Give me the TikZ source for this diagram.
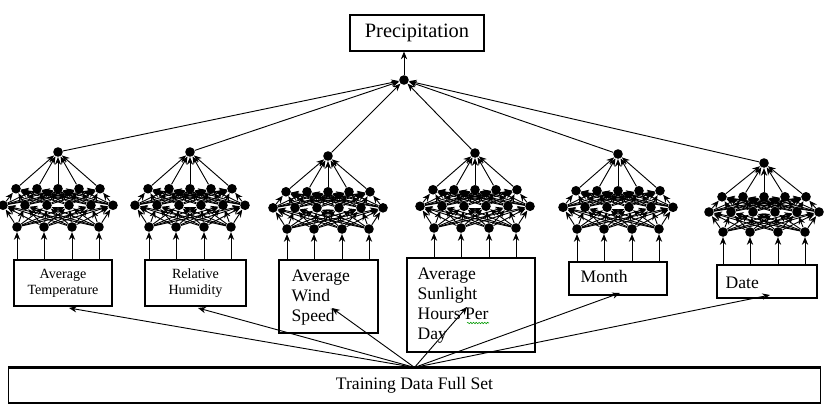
\documentclass[tikz,border=0pt]{standalone}
\usepackage{fontspec}
\setmainfont{Liberation Serif}
\usetikzlibrary{arrows.meta,calc,decorations.pathmorphing}

\begin{document}
\begin{tikzpicture}[x=0.025cm,y=-0.025cm,
    neuron/.style={circle,fill=black,inner sep=0pt,minimum size=0.24cm},
    field/.style={draw,rectangle,line width=0.8pt,inner sep=0pt},
    fieldtext/.style={anchor=north west,inner sep=0pt,align=left,font=\fontsize{12.5}{14.2}\selectfont},
    link/.style={-{Stealth[length=5.5pt,width=4.5pt]},line width=0.65pt}]
    \useasboundingbox (0,0) rectangle (829,410);

    % Target and training set
    \node[field,minimum width=3.35cm,minimum height=0.9cm,font=\fontsize{14.5}{16}\selectfont] (prec) at (417,33) {Precipitation};
    \node[field,minimum width=20.275cm,minimum height=0.875cm,font=\fontsize{12.5}{14}\selectfont] (train) at (414.5,385.5) {Training Data Full Set};
    \draw[line width=1.8pt] (train.north west) -- (train.north east);
    \node[neuron] (top) at (404,80) {};
    \draw[link] (top) -- (top |- prec.south);

    % Input fields
    \node[field,minimum width=2.45cm,minimum height=1.15cm,align=center,font=\fontsize{10}{11.4}\selectfont] (b1) at (63,283) {Average\\Temperature};
    \node[field,minimum width=2.525cm,minimum height=1.15cm,align=center,font=\fontsize{10}{11.4}\selectfont] (b2) at (195.5,283) {Relative\\Humidity};
    \node[field,minimum width=2.475cm,minimum height=1.825cm] (b3) at (328.5,296.5) {};
    \node[field,minimum width=3.2cm,minimum height=2.35cm] (b4) at (471,305) {};
    \node[field,minimum width=2.45cm,minimum height=0.825cm] (b5) at (618,278.5) {};
    \node[field,minimum width=2.5cm,minimum height=0.825cm] (b6) at (767,281.5) {};
    \node[fieldtext] (l3) at ($(b3.north west)+(13,10)$) {Average\\Wind\\Speed};
    \node[fieldtext] (l4) at ($(b4.north west)+(11,10)$) {Average\\Sunlight\\Hours Per\\Day};
    \node[fieldtext] (l5) at ($(b5.north west)+(12,9)$) {Month};
    \node[fieldtext] (l6) at ($(b6.north west)+(9,12)$) {Date};
    \draw[green!60!black,line width=0.4pt,decorate,decoration={snake,amplitude=0.5pt,segment length=2pt}] (467,323) -- (489,323);

    % Sub-networks
    \foreach \k/\cx/\ty/\iy in {1/58/152/227, 2/190/152/227, 3/328/156/229, 4/475/153/228, 5/618/154/229, 6/764/163/232} {
        \pgfmathsetmacro\uy{\ty+0.49*(\iy-\ty)}
        \pgfmathsetmacro\ly{\ty+0.71*(\iy-\ty)}
        \node[neuron] (n\k-out) at (\cx,\ty) {};
        \foreach \j in {1,...,5}
            \node[neuron] (n\k-up\j) at ({\cx-42+21*(\j-1)},\uy) {};
        \foreach \j in {1,...,6}
            \node[neuron] (n\k-lo\j) at ({\cx-55+22*(\j-1)},\ly) {};
        \foreach \j/\dx in {1/-41,2/-14,3/14,4/41}
            \node[neuron] (n\k-in\j) at (\cx+\dx,\iy) {};
        \foreach \a in {1,...,4}
            \foreach \b in {1,...,6}
                \draw[link] (n\k-in\a) -- (n\k-lo\b);
        \foreach \a in {1,...,6}
            \foreach \b in {1,...,5}
                \draw[link] (n\k-lo\a) -- (n\k-up\b);
        \foreach \b in {1,...,5}
            \draw[link] (n\k-up\b) -- (n\k-out);
        \draw[link] (n\k-out) -- (top);
        \foreach \j in {1,...,4}
            \draw[link] (b\k.north -| n\k-in\j) -- (n\k-in\j);
    }

    % Training data to the fields
    \coordinate (t1) at (69,308);
    \coordinate (t2) at (198,308);
    \coordinate (t3) at (332,308);
    \coordinate (t4) at (467,307);
    \coordinate (t5) at (620,293);
    \coordinate (t6) at (770,295);
    \foreach \k in {1,...,6}
        \draw[link] (train.north) -- (t\k);
\end{tikzpicture}
\end{document}
